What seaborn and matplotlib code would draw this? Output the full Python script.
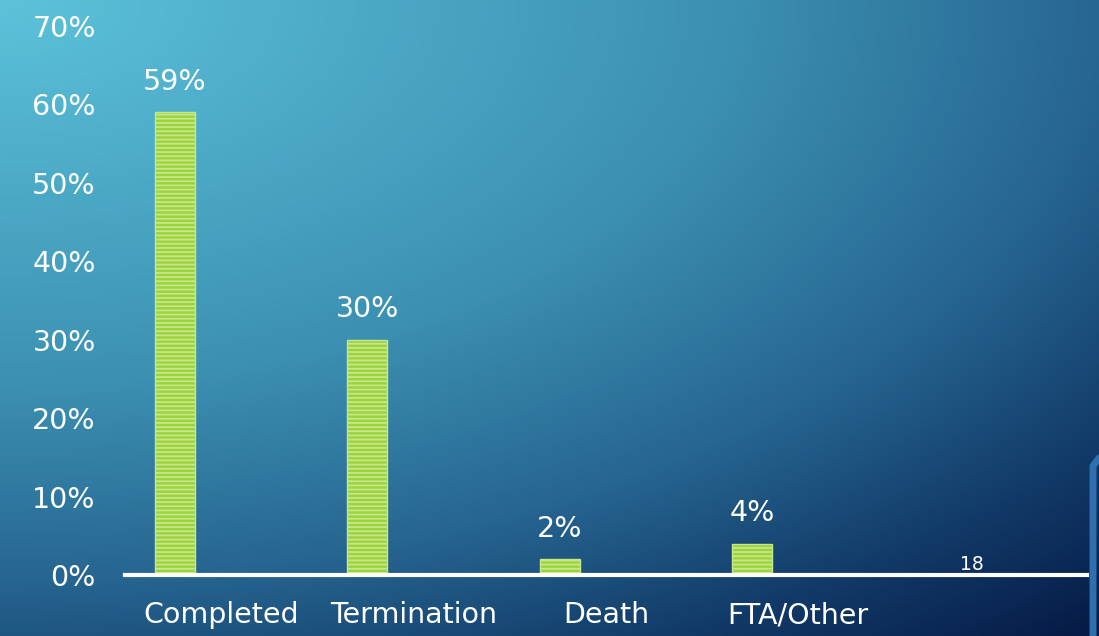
import numpy as np
import matplotlib
matplotlib.use("Agg")
import matplotlib.pyplot as plt
import matplotlib.transforms as mtransforms
from matplotlib.colors import LinearSegmentedColormap
import seaborn as sns
import pandas as pd

categories = ["Completed", "Termination", "Death", "FTA/Other", ""]
values = [59, 30, 2, 4, np.nan]
value_labels = ["59%", "30%", "2%", "4%", ""]
ytick_vals = [0, 10, 20, 30, 40, 50, 60, 70]
ytick_labels = ["0%", "10%", "20%", "30%", "40%", "50%", "60%", "70%"]
page_number = "18"

sns.set_theme(style="white")
plt.rcParams["font.family"] = ["DejaVu Sans"]
plt.rcParams["hatch.linewidth"] = 1.3
plt.rcParams["hatch.color"] = "#e6f6bc"

W, H = 1099, 636
fig = plt.figure(figsize=(W / 100, H / 100), dpi=100)

# background gradient
bg = fig.add_axes([0, 0, 1, 1], zorder=-10)
xx, yy = np.meshgrid(np.linspace(0, 1, 400), np.linspace(0, 1, 240))
d = np.sqrt(xx ** 2 + (1.1 * yy) ** 2)
d = d / d.max()
cmap = LinearSegmentedColormap.from_list(
    "bg",
    [(0.0, "#5cc2da"), (0.45, "#3c90b2"), (0.68, "#266590"), (0.85, "#123a68"), (1.0, "#061a45")],
)
bg.imshow(d, cmap=cmap, aspect="auto", extent=[0, 1, 0, 1], origin="upper")
bg.set_axis_off()

ax = fig.add_axes([125 / W, 61 / H, 962 / W, 549 / H])
ax.patch.set_alpha(0)

df = pd.DataFrame({"cat": categories, "val": values})
sns.barplot(data=df, x="cat", y="val", ax=ax, color="#9bd23e", width=0.208,
            order=categories, edgecolor="#c6e888", linewidth=1.0, hatch="----",
            saturation=1)

ax.set_xlim(-0.26, 4.74)
ax.set_ylim(0, 70)
ax.set_xlabel("")
ax.set_ylabel("")
for s in ["top", "right", "left"]:
    ax.spines[s].set_visible(False)
ax.spines["bottom"].set_color("white")
ax.spines["bottom"].set_linewidth(3)
ax.spines["bottom"].set_zorder(5)

ax.set_yticks(ytick_vals)
ax.set_yticklabels(ytick_labels, color="white", fontsize=20.5)
ax.tick_params(axis="y", length=0, pad=21)
ax.set_xticks(range(len(categories)))
ax.set_xticklabels(categories, color="white", fontsize=20.5)
ax.tick_params(axis="x", length=0, pad=19)
offset = mtransforms.ScaledTranslation(46 / 100, 0, fig.dpi_scale_trans)
for lab in ax.get_xticklabels():
    lab.set_transform(lab.get_transform() + offset)

for i, (v, lbl) in enumerate(zip(values, value_labels)):
    if lbl:
        ax.annotate(lbl, (i, v), xytext=(0, 12), textcoords="offset points",
                    ha="center", va="bottom", color="white", fontsize=20.5)

fig.text(972 / W, 1 - 564 / H, page_number, color="white", fontsize=13.5,
         ha="center", va="center")

# slide frame decoration at right edge
fig.add_artist(plt.Line2D([1093 / W, 1093 / W, 1099 / W], [0, 1 - 466 / H, 1 - 458 / H],
                          color="#2f6fae", linewidth=5, transform=fig.transFigure))

fig.savefig("out.png", dpi=100)
